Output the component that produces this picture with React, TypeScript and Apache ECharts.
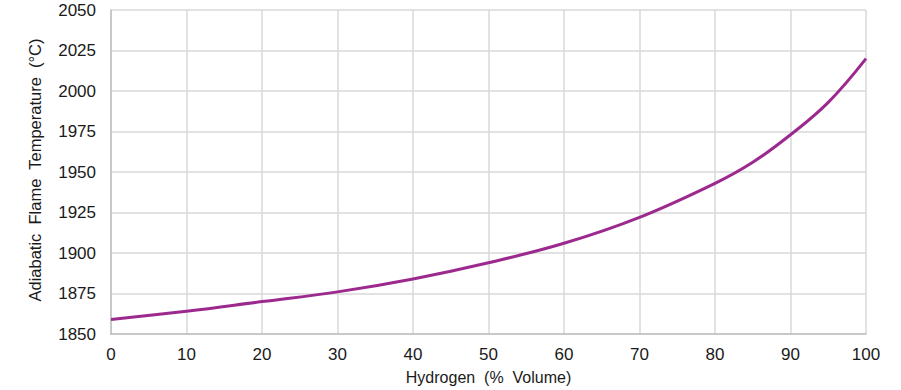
import React, { useEffect, useRef } from "react";
import * as echarts from "echarts";

const hydrogenPct = [0, 10, 20, 30, 40, 50, 60, 70, 80, 85, 90, 95, 100];
const flameTemp = [1859, 1864, 1870, 1876, 1884, 1894, 1906, 1922, 1943, 1956, 1973, 1993, 2020];

const xTicks = { min: 0, max: 100, interval: 10 };
const yTicks = { min: 1850, max: 2050, interval: 25 };
const xTitle = "Hydrogen  (%  Volume)";
const yTitle = "Adiabatic  Flame  Temperature  (°C)";

export default function App() {
  const ref = useRef<HTMLDivElement>(null);
  useEffect(() => {
    if (!ref.current) return;
    const chart = echarts.init(ref.current, undefined, { renderer: "svg" });
    const font = "Liberation Sans, Arial, sans-serif";
    chart.setOption({
      animation: false,
      backgroundColor: "#ffffff",
      grid: { left: 111, right: 35, top: 10, bottom: 54, containLabel: false },
      graphic: [
        {
          type: "text",
          x: 35,
          y: 170,
          rotation: Math.PI / 2,
          style: {
            text: yTitle,
            fontFamily: font,
            fontSize: 16.5,
            fill: "#1a1a1a",
            align: "center",
            verticalAlign: "middle",
          },
        },
      ],
      xAxis: {
        type: "value",
        min: xTicks.min,
        max: xTicks.max,
        interval: xTicks.interval,
        name: xTitle,
        nameLocation: "middle",
        nameGap: 35,
        nameTextStyle: { fontFamily: font, fontSize: 16, color: "#1a1a1a" },
        axisLine: { show: true, lineStyle: { color: "#bfbfbf", width: 1.5 } },
        axisTick: { show: false },
        axisLabel: { fontFamily: font, fontSize: 17, color: "#1a1a1a", margin: 12 },
        splitLine: { show: true, lineStyle: { color: "#d9d9d9", width: 1.5 } },
      },
      yAxis: {
        type: "value",
        min: yTicks.min,
        max: yTicks.max,
        interval: yTicks.interval,
        axisLine: { show: true, lineStyle: { color: "#bfbfbf", width: 1.5 } },
        axisTick: { show: false },
        axisLabel: {
          fontFamily: font,
          fontSize: 17,
          color: "#1a1a1a",
          margin: 15,
          formatter: (v: number) => String(v),
        },
        splitLine: { show: true, lineStyle: { color: "#d9d9d9", width: 1.5 } },
      },
      series: [
        {
          type: "line",
          data: hydrogenPct.map((x, i) => [x, flameTemp[i]]),
          smooth: 0.4,
          showSymbol: false,
          lineStyle: { color: "#9c2a8e", width: 3 },
        },
      ],
    });
    return () => chart.dispose();
  }, []);
  return <div ref={ref} style={{ width: 901, height: 390, position: "absolute", left: 0, top: 0 }} />;
}
